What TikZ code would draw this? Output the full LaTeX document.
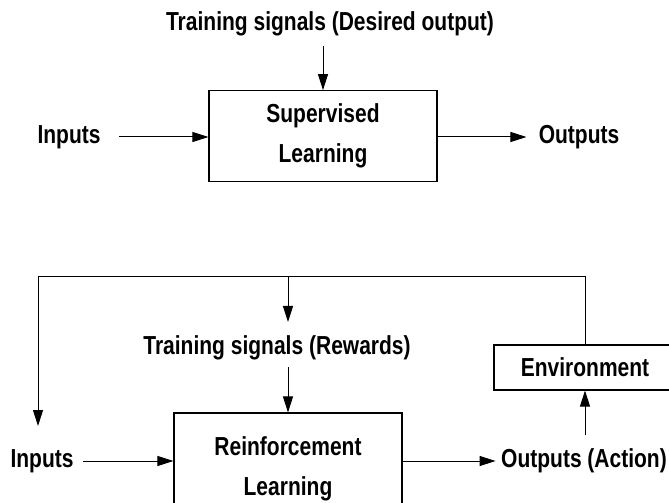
\documentclass[tikz,border=0pt]{standalone}
\usepackage{graphicx}
\usepackage{fontspec}
\setmainfont{Liberation Sans}
\usetikzlibrary{arrows.meta,positioning}

\newcommand{\tallt}[1]{\scalebox{1}[1.24]{#1}}

\begin{document}
\begin{tikzpicture}[
    x=0.75pt, y=-0.75pt,
    label/.style={
        inner sep=0pt,
        font=\fontsize{15.75}{30}\selectfont\bfseries
    },
    block/.style={
        rectangle,
        draw,
        line width=0.8pt,
        align=center,
        inner sep=0pt,
        font=\fontsize{15.75}{30}\selectfont\bfseries
    },
    arrow/.style={-{Triangle[length=12pt,width=7.5pt]},line width=0.75pt}
]
    \clip (0,0) rectangle (669,503);

    % Supervised learning
    \node[label] (sltrain) at (330,24) {\tallt{Training signals (Desired output)}};
    \node[block, minimum width=171pt, minimum height=68pt] (slbox) at (323,136) {\tallt{Supervised}\\\tallt{Learning}};
    \node[label] (slin) at (69,137) {\tallt{Inputs}};
    \node[label] (slout) at (579,137) {\tallt{Outputs}};
    \coordinate (sltop) at (323,46);

    \draw[arrow] (sltop) -- (slbox.north);
    \draw[arrow, shorten <=14pt] (slin.east) -- (slin -| slbox.west);
    \draw[arrow, shorten >=9pt] (slin -| slbox.east) -- (slout.west);

    % Reinforcement learning
    \node[label] (rltrain) at (277,348) {\tallt{Training signals (Rewards)}};
    \node[block, minimum width=171pt, minimum height=84pt] (rlbox) at (288,469) {\tallt{Reinforcement}\\\tallt{Learning}};
    \node[label] (rlin) at (42,461) {\tallt{Inputs}};
    \node[label] (rlout) at (584,461) {\tallt{Outputs (Action)}};
    \node[block, minimum width=136.5pt, minimum height=33.75pt] (env) at (585,367.5) {\tallt{Environment}};

    \draw[arrow, shorten <=7pt] (rlin.east) -- (rlin -| rlbox.west);
    \draw[arrow, shorten >=4pt] (rlin -| rlbox.east) -- (rlout.west);
    \coordinate (actup) at (585,435);
    \draw[arrow] (actup) -- (env.south);

    % Feedback loop
    \coordinate (loopR) at (585,277);
    \coordinate (loopL) at (38,277);
    \coordinate (loopin) at (38,426);
    \draw[arrow] (env.north) -- (loopR) -- (loopL) -- (loopin);
    \coordinate (rwtop) at (288,277);
    \coordinate (rwend) at (288,322);
    \coordinate (rwstart) at (288,367);
    \draw[arrow] (rwtop) -- (rwend);
    \draw[arrow] (rwstart) -- (rlbox.north);
\end{tikzpicture}
\end{document}
